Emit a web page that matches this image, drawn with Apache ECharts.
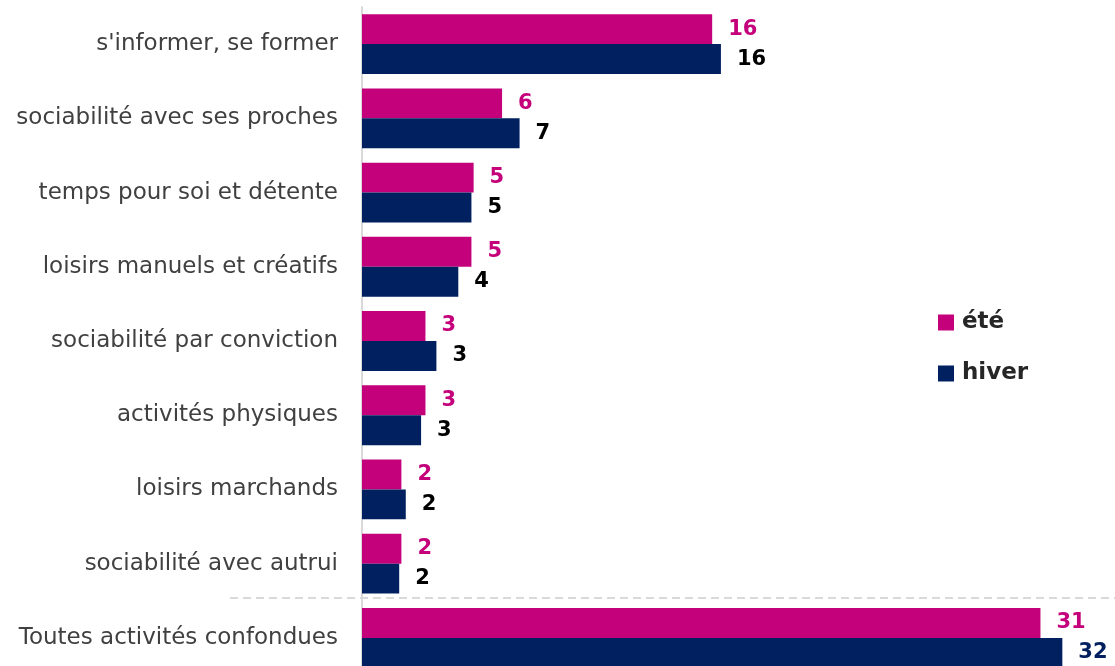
<!DOCTYPE html>
<html>
<head>
<meta charset="utf-8">
<script src="https://cdn.jsdelivr.net/npm/echarts@6/dist/echarts.min.js"></script>
<style>
  html, body { margin: 0; padding: 0; background: #fff; }
  #main { width: 1115px; height: 666px; }
</style>
</head>
<body>
<div id="main"></div>
<script>
// catégories, de haut en bas
var categories = [
  "s'informer, se former",
  "sociabilité avec ses proches",
  "temps pour soi et détente",
  "loisirs manuels et créatifs",
  "sociabilité par conviction",
  "activités physiques",
  "loisirs marchands",
  "sociabilité avec autrui",
  "Toutes activités confondues"
];
var ete = [16.0, 6.4, 5.1, 5.0, 2.9, 2.9, 1.8, 1.8, 31.0];
var hiver = [16.4, 7.2, 5.0, 4.4, 3.4, 2.7, 2.0, 1.7, 32.0];

var pink = '#c4007a';
var navy = '#002060';
var font = 'DejaVu Sans';

var chart = echarts.init(document.getElementById('main'));
var option = {
  animation: false,
  textStyle: { fontFamily: font },
  legend: {
    orient: 'vertical',
    left: 933,
    top: 306,
    itemWidth: 16,
    itemHeight: 16,
    itemGap: 28,
    icon: 'rect',
    textStyle: { fontSize: 23, fontWeight: 'bold', color: '#262626', fontFamily: font, padding: [0, 0, 0, 3] },
    data: ['été', 'hiver']
  },
  grid: { left: 362, top: 7, width: 766, height: 668, outerBoundsMode: 'none' },
  xAxis: {
    type: 'value', min: 0, max: 35,
    show: false
  },
  yAxis: {
    type: 'category',
    inverse: true,
    data: categories,
    axisLine: { lineStyle: { color: '#d9d9d9', width: 2 } },
    axisTick: { length: 8, lineStyle: { color: '#d9d9d9', width: 2 } },
    axisLabel: { fontSize: 23, color: '#404040', margin: 24, fontFamily: font }
  },
  series: [
    {
      name: 'été', type: 'bar', data: ete,
      barGap: 0, barCategoryGap: '19.4%',
      itemStyle: { color: pink },
      label: {
        show: true, position: 'right', distance: 16,
        fontSize: 21, fontWeight: 'bold', color: pink, fontFamily: font,
        formatter: function (p) { return Math.round(p.value); }
      }
    },
    {
      name: 'hiver', type: 'bar', data: hiver.map(function (v, i) {
        return i === hiver.length - 1 ? { value: v, label: { color: navy } } : v;
      }),
      itemStyle: { color: navy },
      label: {
        show: true, position: 'right', distance: 16,
        fontSize: 21, fontWeight: 'bold', color: '#000', fontFamily: font,
        formatter: function (p) { return Math.round(p.value); }
      }
    }
  ],
  graphic: [{
    type: 'line',
    shape: { x1: 230, y1: 598, x2: 1115, y2: 598 },
    style: { stroke: '#d9d9d9', lineWidth: 2, lineDash: [8, 5] },
    z: 10
  }]
};
chart.setOption(option);
</script>
</body>
</html>
